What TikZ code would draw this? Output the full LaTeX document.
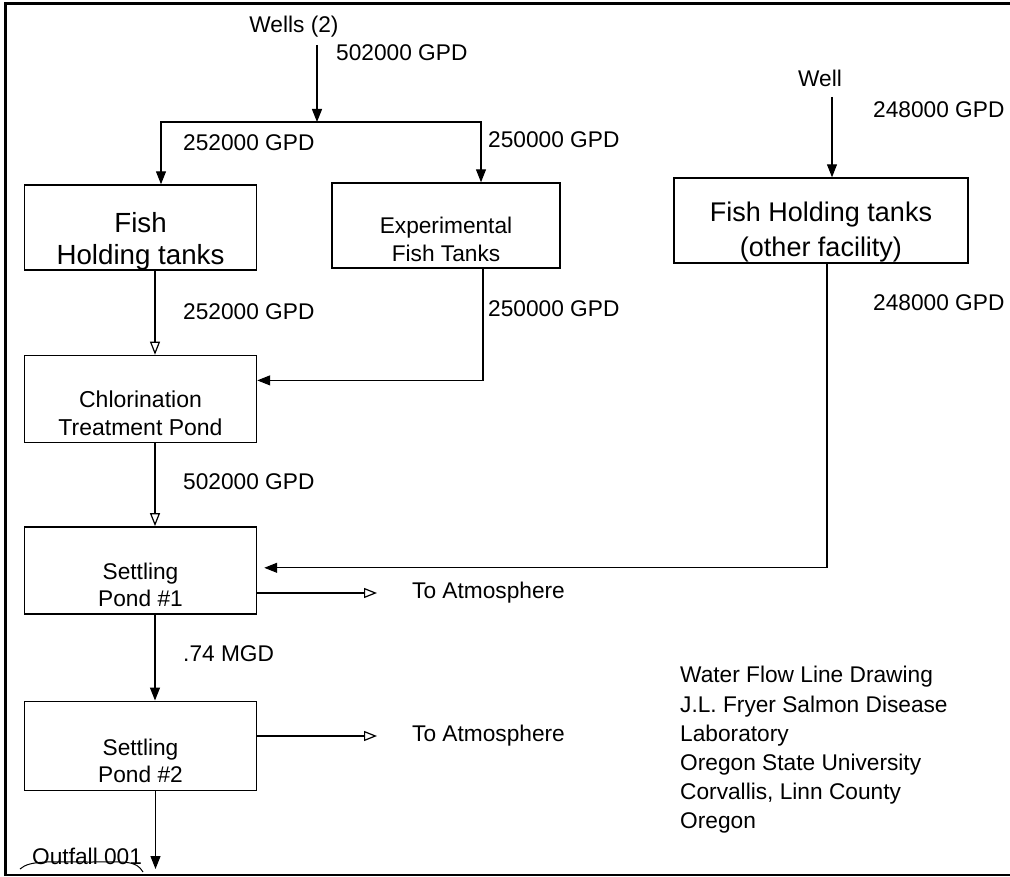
\documentclass[tikz,border=0pt]{standalone}
\usepackage{fontspec}
\setmainfont{Liberation Sans}
\usetikzlibrary{positioning, arrows.meta}

\tikzset{
  tank/.style={draw, rectangle, line width=1.4pt, inner sep=0pt, minimum width=232pt},
  tanktext/.style={align=center, inner sep=0pt, font={\fontsize{22.7}{28}\selectfont}},
  lbl/.style={anchor=west, inner sep=0pt, font={\fontsize{22.7}{29}\selectfont}},
  flow/.style={-{Triangle[length=13pt,width=10pt]}, line width=1.2pt},
  flowopen/.style={-{Triangle[open,length=13pt,width=10pt]}, line width=1.2pt},
}

\begin{document}
\begin{tikzpicture}[x=1pt, y=-1pt]
  \useasboundingbox (0,0) rectangle (1010,877);
  % frame
  \draw[line width=3pt] (1012,4) -- (5,4) -- (5,875);
  \draw[line width=2pt] (4,875) -- (1012,875);

  % tanks and ponds
  \node[tank, minimum height=85pt] (fishA) at (140.5,227.5) {};
  \node[tank, minimum width=228pt, minimum height=85pt] (expt) at (446,225.5) {};
  \node[tank, minimum width=294pt, minimum height=85pt] (fishB) at (821,220.5) {};
  \node[tank, minimum height=87pt] (chlor) [below=84pt of fishA] {};
  \node[tank, minimum height=87pt] (pondA) [below=83pt of chlor] {};
  \node[tank, minimum height=89pt] (pondB) [below=86pt of pondA] {};

  \node[tanktext, font={\fontsize{27.7}{32}\selectfont}] (fishAtxt) at ([yshift=-13.4pt]fishA.center) {Fish\\Holding tanks};
  \node[tanktext] (expttxt) at ([yshift=-13.5pt]expt.center) {Experimental\\Fish Tanks};
  \node[tanktext, font={\fontsize{27}{35}\selectfont}] (fishBtxt) at ([yshift=-12pt]fishB.center) {Fish Holding tanks\\(other facility)};
  \node[tanktext, font={\fontsize{23}{28}\selectfont}] (chlortxt) at ([yshift=-14.5pt]chlor.center) {Chlorination\\Treatment Pond};
  \node[tanktext, font={\fontsize{22.7}{27}\selectfont}] (pondAtxt) at ([yshift=-15pt]pondA.center) {Settling\\Pond \#1};
  \node[tanktext, font={\fontsize{22.7}{27}\selectfont}] (pondBtxt) at ([yshift=-15pt]pondB.center) {Settling\\Pond \#2};

  % wells
  \node[lbl, anchor=center] (wells) at (294,27) {Wells (2)};
  \coordinate (wellsfeed) at (317,45);
  \coordinate (split) at (317,122);
  \node[lbl] (qwells) at (336,53) {502000 GPD};
  \draw[flow] (wellsfeed) -- (split);
  \draw[flow] (split) -| ([xshift=20.5pt]fishA.north);
  \draw[flow] (split) -| ([xshift=35pt]expt.north);
  \node[lbl] (qfishA) at (183,143) {252000 GPD};
  \node[lbl] (qexpt) at (488,140) {250000 GPD};

  \node[lbl, anchor=center] (well) at (820,78) {Well};
  \coordinate (wellfeed) at (832,97);
  \draw[flow] (wellfeed) -- (wellfeed |- fishB.north);
  \node[lbl] (qwell) at (873,110) {248000 GPD};

  % into chlorination
  \draw[flowopen] ([xshift=14.5pt]fishA.south) -- ([xshift=14.5pt]chlor.north);
  \node[lbl] (qfishAout) at (183,312) {252000 GPD};
  \draw[flow] ([xshift=37pt]expt.south) |- ([yshift=18.5pt]chlor.east);
  \node[lbl] (qexptout) at (488,309) {250000 GPD};

  % into settling
  \draw[flowopen] ([xshift=14.5pt]chlor.south) -- ([xshift=14.5pt]pondA.north);
  \node[lbl] (qchlor) at (183,482) {502000 GPD};
  \draw[flow, shorten >=7pt] ([xshift=6pt]fishB.south) |- ([yshift=2.5pt]pondA.east);
  \node[lbl] (qfishB) at (873,303) {248000 GPD};

  \node[lbl] (atmA) at (412,593) {To Atmosphere};
  \draw[flowopen, shorten >=35pt] (pondA.east |- atmA.west) -- (atmA.west);
  \draw[flow] ([xshift=14.5pt]pondA.south) -- ([xshift=14.5pt]pondB.north);
  \node[lbl] (qpondA) at (183,654) {.74 MGD};
  \node[lbl] (atmB) at (412,736) {To Atmosphere};
  \draw[flowopen, shorten >=35pt] (pondB.east |- atmB.west) -- (atmB.west);

  % outfall
  \coordinate (outfall) at (155.5,869);
  \draw[flow] ([xshift=15pt]pondB.south) -- (outfall);
  \node[lbl] (outlbl) at (32,856) {Outfall 001};
  \draw[line width=1pt] (20,869) .. controls (30,860) and (50,862) .. (90,862) .. controls (125,862) and (136,860) .. (143,872);

  \node[anchor=west, align=left, inner sep=0pt, font={\fontsize{22.7}{29.2}\selectfont}] (credit) at (680,750) {Water Flow Line Drawing\\J.L. Fryer Salmon Disease\\Laboratory\\Oregon State University\\Corvallis, Linn County\\Oregon};
\end{tikzpicture}
\end{document}
